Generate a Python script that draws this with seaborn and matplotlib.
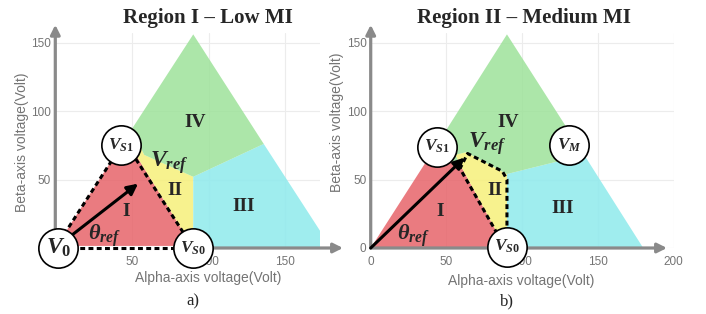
# %% sector diagram, two panels (low / medium MI)
import matplotlib
matplotlib.use('Agg')
from matplotlib import pyplot as plt
import seaborn as sns

# %% DATA
# panel a) region outlines (alpha, beta) in volts
A_I_X = [0, 90, 46]
A_I_Y = [0, 0, 80]
A_II_X = [90, 90, 58, 50, 46]
A_II_Y = [0, 52, 68, 87, 80]
A_III_X = [90, 180, 136, 90]
A_III_Y = [0, 0, 76, 52]
A_IV_X = [50, 58, 90, 136, 90]
A_IV_Y = [87, 68, 52, 76, 156]

# panel b) region outlines
B_I_X = [0, 89, 58, 36]
B_I_Y = [0, 0, 63, 62]
B_II_X = [89, 90, 90, 63, 56, 58]
B_II_Y = [0, 0, 54, 70, 68, 63]
B_III_X = [90, 180, 141, 90]
B_III_Y = [0, 0, 68, 54]
B_IV_X = [36, 58, 56, 63, 90, 141, 90]
B_IV_Y = [62, 63, 68, 70, 54, 68, 156]

# dashed switching paths
A_PATH_X = [0, 45, 90]
A_PATH_Y = [0, 78, 0]
A_BASE_X = [0, 90]
A_BASE_Y = [0, 0]
B_PATH_X = [89, 59, 64, 87, 90, 90]
B_PATH_Y = [0, 58, 69, 56, 50, 0]

# reference vector tips
A_REF = (54, 47)
B_REF = (62, 66)

# voltage vector nodes
A_NODE_X = [2, 43, 90]
A_NODE_Y = [0, 75, 0]
A_NODE_LBL = [r'$V_0$', r'$V_{S1}$', r'$V_{S0}$']
B_NODE_X = [44, 90, 131]
B_NODE_Y = [74, 1, 75]
B_NODE_LBL = [r'$V_{S1}$', r'$V_{S0}$', r'$V_M$']

REGION_LBL = ['I', 'II', 'III', 'IV']
A_LBL_X = [46, 78, 123, 91]
A_LBL_Y = [27, 42, 30, 92]
B_LBL_X = [46, 82, 127, 91]
B_LBL_Y = [27, 42, 29, 92]

A_TICK_LBL = ['', '50', '100', '150']
COLORS = ['#e7646a', '#f6f07a', '#8eeaec', '#9ee29a']

# %% STYLE
sns.set_theme(style='whitegrid')
plt.rcParams['font.family'] = ['Liberation Sans', 'DejaVu Sans']
plt.rcParams['mathtext.fontset'] = 'custom'
plt.rcParams['mathtext.it'] = 'Liberation Serif:italic:bold'
plt.rcParams['mathtext.rm'] = 'Liberation Serif:bold'
plt.rcParams['mathtext.bf'] = 'Liberation Serif:bold'

W, H = 706, 314


def fx(x):
    return x / W


def fy(y):
    return 1 - y / H


fig = plt.figure(figsize=(W / 100, H / 100), dpi=100)
ax_a = fig.add_axes([fx(55.3), fy(248), (320 - 55.3) / W, (248 - 33) / H])
ax_b = fig.add_axes([fx(370.7), fy(248), (673.5 - 370.7) / W, (248 - 33) / H])


def base_axes(ax, xmax, xticks, tip_x):
    ax.set_xlim(0, xmax)
    ax.set_ylim(0, 157)
    ax.set_xticks(xticks)
    ax.set_yticks([0, 50, 100, 150])
    for s in ax.spines.values():
        s.set_visible(False)
    ax.grid(color='#ececec', lw=0.8)
    ax.tick_params(axis='both', length=0, labelsize=8.5, labelcolor='#747474')
    ax.tick_params(axis='x', pad=6)
    ax.tick_params(axis='y', pad=3)
    ax.set_xlabel('')
    ax.set_ylabel('')
    arw = dict(arrowstyle='-|>', color='#8a8a8a', lw=2.3, mutation_scale=14,
               shrinkA=0, shrinkB=0)
    ax.annotate('', xy=(tip_x, 0), xytext=(0, 0), arrowprops=arw,
                annotation_clip=False, zorder=2)
    ax.annotate('', xy=(0, 163), xytext=(0, 0), arrowprops=arw,
                annotation_clip=False, zorder=2)


def regions(ax, polys):
    for (xs, ys), c in zip(polys, COLORS):
        ax.fill(xs, ys, color=c, alpha=0.85, lw=0, zorder=1)


def nodes(ax, xs, ys, lbls, big=None):
    sns.scatterplot(x=xs, y=ys, s=800, color='white', edgecolor='black',
                    linewidth=1.2, zorder=10, clip_on=False, ax=ax, legend=False)
    for x, y, t in zip(xs, ys, lbls):
        size = 17 if t == big else 12.5
        ax.text(x, y, t, ha='center', va='center', fontsize=size, zorder=11,
                clip_on=False)


def ref_arrow(ax, tip):
    ax.annotate('', xy=tip, xytext=(0, 0),
                arrowprops=dict(arrowstyle='-|>', color='black', lw=2.2,
                                mutation_scale=16, shrinkA=0, shrinkB=0),
                zorder=6)


dash = (0, (1.6, 1.1))

# %% PANEL a
base_axes(ax_a, 172.7, [0, 50, 100, 150], 187.7)
ax_a.set_xticklabels(A_TICK_LBL)
ax_a.set_yticklabels(A_TICK_LBL)
regions(ax_a, [(A_I_X, A_I_Y), (A_II_X, A_II_Y), (A_III_X, A_III_Y), (A_IV_X, A_IV_Y)])
ax_a.plot(A_BASE_X, A_BASE_Y, color='white', lw=3, zorder=2.6, clip_on=False)
ax_a.plot(A_BASE_X, A_BASE_Y, color='black', lw=2.2, ls=dash, zorder=3, clip_on=False)
ax_a.plot(A_PATH_X, A_PATH_Y, color='black', lw=2.2, ls=dash, zorder=3)
ref_arrow(ax_a, A_REF)
for t, x, y in zip(REGION_LBL, A_LBL_X, A_LBL_Y):
    ax_a.text(x, y, t, ha='center', va='center', fontsize=14, fontweight='bold',
              family='Liberation Serif', zorder=5)
ax_a.text(74, 62, r'$V_{ref}$', ha='center', va='center', fontsize=17, zorder=7)
ax_a.text(32, 9, r'$\theta_{ref}$', ha='center', va='center', fontsize=16, zorder=7)
nodes(ax_a, A_NODE_X, A_NODE_Y, A_NODE_LBL, big=r'$V_0$')

# %% PANEL b
base_axes(ax_b, 200, [0, 50, 100, 150, 200], 195.7)
regions(ax_b, [(B_I_X, B_I_Y), (B_II_X, B_II_Y), (B_III_X, B_III_Y), (B_IV_X, B_IV_Y)])
ax_b.plot(B_PATH_X, B_PATH_Y, color='black', lw=2.2, ls=dash, zorder=3)
ref_arrow(ax_b, B_REF)
for t, x, y in zip(REGION_LBL, B_LBL_X, B_LBL_Y):
    ax_b.text(x, y, t, ha='center', va='center', fontsize=14, fontweight='bold',
              family='Liberation Serif', zorder=5)
ax_b.text(77, 76, r'$V_{ref}$', ha='center', va='center', fontsize=17, zorder=7)
ax_b.text(28, 9, r'$\theta_{ref}$', ha='center', va='center', fontsize=16, zorder=7)
nodes(ax_b, B_NODE_X, B_NODE_Y, B_NODE_LBL)

# %% labels, titles, captions
lab = dict(fontsize=10, color='#747474', ha='center', va='center')
fig.text(fx(208), fy(278), 'Alpha-axis voltage(Volt)', **lab)
fig.text(fx(521), fy(281), 'Alpha-axis voltage(Volt)', **lab)
fig.text(fx(22), fy(142), 'Beta-axis voltage(Volt)', rotation=90, **lab)
fig.text(fx(337), fy(122), 'Beta-axis voltage(Volt)', rotation=90, **lab)

ttl = dict(fontsize=15, fontweight='bold', family='Liberation Serif',
           ha='center', va='center')
fig.text(fx(208), fy(18), 'Region I \u2013 Low MI', **ttl)
fig.text(fx(524), fy(18), 'Region II \u2013 Medium MI', **ttl)

cap = dict(fontsize=12, family='Liberation Serif', ha='center', va='center')
fig.text(fx(193), fy(301), 'a)', **cap)
fig.text(fx(507), fy(301), 'b)', **cap)

fig.savefig('out.png', dpi=100)
